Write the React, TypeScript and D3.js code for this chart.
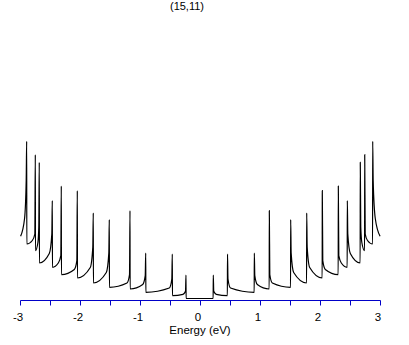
import { useEffect, useRef } from "react";
import * as d3 from "d3";

const width = 409;
const height = 345;

const title = "(15,11)";
const xLabel = "Energy (eV)";
const xTicks = [-3, -2.5, -2, -1.5, -1, -0.5, 0, 0.5, 1, 1.5, 2, 2.5, 3];
const xTickLabels = [-3, -2, -1, 0, 1, 2, 3];

// van Hove singularity energies (eV)
const vhsPositive = [0.213, 0.45, 0.897, 1.147, 1.503, 1.77, 2.03, 2.297, 2.447, 2.663, 2.737, 2.87];
const vhsNegative = [-0.242, -0.47, -0.913, -1.175, -1.52, -1.787, -2.053, -2.32, -2.47, -2.687, -2.753, -2.897];
const energyEnds = [-2.998, 2.993];

// DOS (arb. units), the two sides look the same
const peakDos = [2.35, 4.45, 4.55, 8.78, 7.88, 8.55, 10.78, 11.25, 9.78, 13.62, 14.38, 15.72];
const kinkDos = [0.72, 1.95, 2.28, 2.4, 4.55, 5.15, 3.78, 4.28, 6.45, 7.15, 6.45, 11.78];
const bendDos = [0.42, 1.05, 1.4, 1.55, 2.6, 3.1, 2.9, 3.55, 4.5, 5.6, 5.8, 8.0];
const floorDos = [0.28, 0.62, 0.95, 1.12, 1.55, 2.05, 2.38, 3.12, 3.55, 4.78, 5.45, 6.22];

type Pt = [number, number];

// one side of the spectrum, walking outward from the gap
function sidePoints(vhs: number[], end: number): Pt[] {
  const s = Math.sign(end);
  const pts: Pt[] = [];
  vhs.forEach((e, i) => {
    const a = Math.abs(e);
    const next = i < vhs.length - 1 ? Math.abs(vhs[i + 1]) : Math.abs(end);
    const prev = i === 0 ? 0 : floorDos[i - 1];
    const b = Math.min(0.05, 0.35 * (next - a));
    pts.push([s * (a - 0.002), prev]);
    pts.push([s * a, peakDos[i]]);
    pts.push([s * (a + 0.008), kinkDos[i]]);
    pts.push([s * (a + b), bendDos[i]]);
    if (i === vhs.length - 1) pts.push([s * next, floorDos[i]]);
  });
  return pts;
}

function App() {
  const svgRef = useRef(null);

  useEffect(() => {
    const svg = d3.select(svgRef.current);
    svg.selectAll("*").remove();

    const font = "'Liberation Sans', Arial, sans-serif";

    const x = d3.scaleLinear().domain([-3, 3]).range([20.5, 380.5]);
    const y = d3.scaleLinear().domain([0, 16]).range([298.5, 138.5]);

    const pts = [...sidePoints(vhsNegative, energyEnds[0]), ...sidePoints(vhsPositive, energyEnds[1])]
      .sort((p, q) => p[0] - q[0]);

    const line = d3.line<Pt>()
      .x(d => x(d[0]))
      .y(d => y(d[1]))
      .curve(d3.curveMonotoneX);

    svg.append("path")
      .datum(pts)
      .attr("fill", "none")
      .attr("stroke", "#000")
      .attr("stroke-width", 1.2)
      .attr("d", line);

    // x-axis
    const axis = svg.append("g")
      .attr("transform", "translate(0,300.5)")
      .call(
        d3.axisBottom(x)
          .tickValues(xTicks)
          .tickSize(5)
          .tickSizeOuter(0)
          .tickPadding(7)
          .offset(0)
          .tickFormat(d => (xTickLabels.includes(+d) ? String(d) : ""))
      );
    axis.select(".domain").attr("stroke", "#0000c8").attr("stroke-width", 1.2);
    axis.selectAll(".tick line").attr("stroke", "#0000c8");
    axis.selectAll(".tick text")
      .attr("fill", "#000")
      .attr("dx", -2.5)
      .style("font-family", font)
      .style("font-size", "11.5px");

    svg.append("text")
      .attr("x", 200)
      .attr("y", 334)
      .attr("text-anchor", "middle")
      .style("font-family", font)
      .style("font-size", "11.5px")
      .text(xLabel);

    svg.append("text")
      .attr("x", 187)
      .attr("y", 10)
      .attr("text-anchor", "middle")
      .style("font-family", font)
      .style("font-size", "11px")
      .text(title);
  }, []);

  return (
    <div>
      <svg
        width={width}
        height={height}
        ref={svgRef}
        style={{ position: "absolute", left: 0, top: 0, background: "#fff" }}
      />
    </div>
  );
}

export default App;
